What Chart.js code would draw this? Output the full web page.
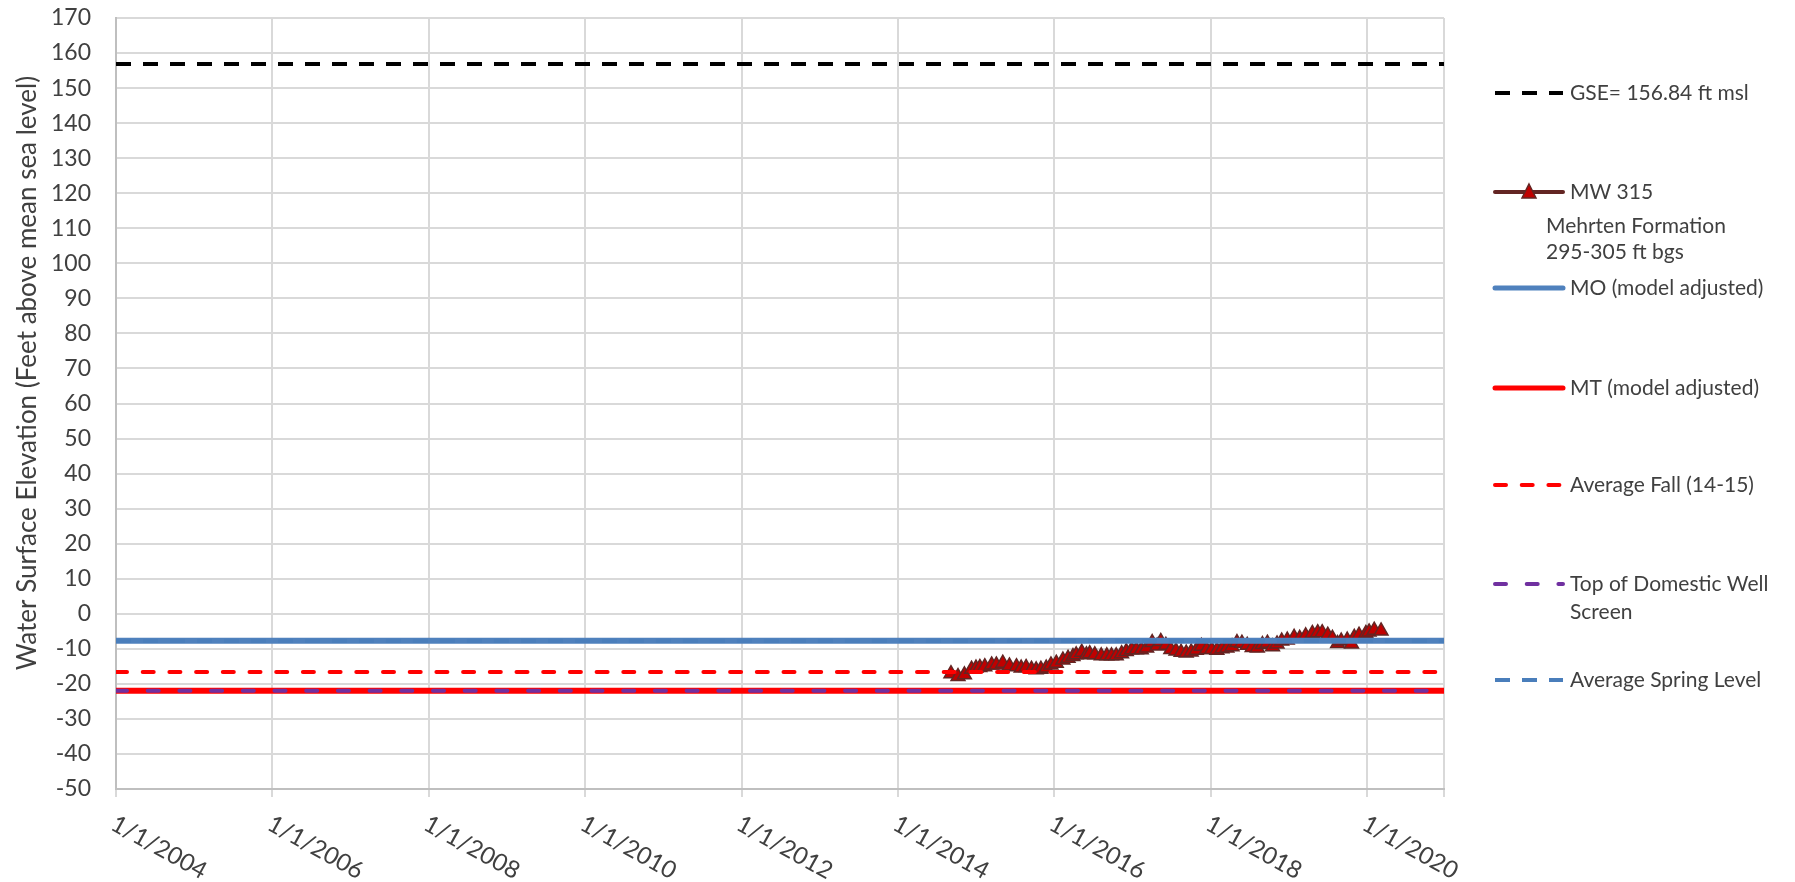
<!DOCTYPE html>
<html>
<head>
<meta charset="utf-8">
<script src="https://cdn.jsdelivr.net/npm/chart.js@4.4.0/dist/chart.umd.min.js"></script>
<style>
  body { margin: 0; background: #fff; }
  canvas { display: block; }
</style>
</head>
<body>
<canvas id="chart" width="1795" height="882"></canvas>
<script>
// ---------- DATA ----------
var xStart = '2004-01-01';
var xEnd = '2020-12-25';
var xTickLabels = ['1/1/2004', '1/1/2006', '1/1/2008', '1/1/2010', '1/1/2012',
                   '1/1/2014', '1/1/2016', '1/1/2018', '1/1/2020'];
var yMin = -50, yMax = 170, yStep = 10;

var seriesNames = ['GSE= 156.84 ft msl', 'MW 315', 'MO (model adjusted)', 'MT (model adjusted)',
                   'Average Fall (14-15)', 'Top of Domestic Well Screen', 'Average Spring Level'];
var mwSubLabel = ['Mehrten Formation', '295-305 ft bgs'];

var levelGSE = 156.84;
var levelMO = -7.7;
var levelMT = -22;
var levelFall = -16.6;
var levelWell = -22;
var levelSpring = -7.8;

var mwDates = [
  '2014-09-05','2014-10-08','2014-11-07','2014-12-10','2014-12-31','2015-01-18','2015-02-10','2015-03-14',
  '2015-04-05','2015-05-05','2015-06-05','2015-07-08','2015-07-30','2015-08-22','2015-09-16','2015-10-08',
  '2015-10-30','2015-11-24','2015-12-16','2016-01-10','2016-02-10','2016-03-05','2016-03-28','2016-04-12',
  '2016-05-08','2016-05-30','2016-06-14','2016-07-08','2016-08-07','2016-09-02','2016-09-24','2016-10-16',
  '2016-11-10','2016-12-02','2016-12-27','2017-01-18','2017-02-10','2017-03-07','2017-04-02','2017-04-25',
  '2017-05-12','2017-06-05','2017-06-28','2017-07-22','2017-08-15','2017-09-08','2017-10-01','2017-10-25',
  '2017-11-18','2017-12-12','2018-01-05','2018-01-29','2018-02-22','2018-03-17','2018-04-10','2018-05-03',
  '2018-05-26','2018-06-20','2018-07-13','2018-08-06','2018-08-30','2018-09-22','2018-10-16','2018-11-06',
  '2018-11-28','2018-12-24','2019-01-25','2019-02-20','2019-03-20','2019-04-20','2019-05-15','2019-06-05',
  '2019-07-01','2019-07-23','2019-08-16','2019-09-02','2019-09-30','2019-10-20','2019-11-02','2019-11-24',
  '2019-12-26','2020-01-10','2020-02-03','2020-03-06'
];
var mwLevels = [
  -17.1, -17.9, -17.4, -15.8, -15.5, -15.3, -15.1, -14.6,
  -14.6, -14.1, -14.9, -15.1, -15.5, -15.3, -15.8, -16.0,
  -15.8, -15.5, -14.6, -14.1, -13.2, -12.7, -12.2, -11.7,
  -11.0, -11.7, -11.4, -11.7, -12.0, -12.0, -12.0, -12.0,
  -11.4, -10.8, -10.3, -10.3, -10.3, -9.8, -8.2, -9.2,
  -7.9, -9.0, -10.2, -10.6, -11.0, -11.2, -10.9, -10.4,
  -9.3, -10.2, -10.2, -10.4, -10.0, -9.8, -9.4, -8.2,
  -8.4, -9.0, -9.6, -9.8, -8.8, -8.4, -9.4, -8.6,
  -7.8, -7.5, -6.7, -7.0, -6.3, -5.6, -5.4, -5.4,
  -6.1, -7.0, -8.5, -7.8, -7.5, -8.6, -6.7, -6.1,
  -5.6, -5.2, -4.7, -4.9
];

// ---------- HELPERS ----------
var t0 = Date.parse(xStart);
var t1 = Date.parse(xEnd);

function labelToTime(s) {
  var p = s.split('/');
  return Date.UTC(+p[2], +p[0] - 1, +p[1]);
}
var xTickValues = xTickLabels.map(labelToTime);

function flat(v) {
  return [{ x: t0, y: v }, { x: t1, y: v }];
}

var mwPoints = mwDates.map(function (d, i) {
  return { x: Date.parse(d), y: mwLevels[i] };
});

var textColor = '#404040';
var fontName = 'Lato, "Open Sans", sans-serif';

// series styles (also used for the legend)
var styles = [
  { color: '#000000', width: 4, dash: [15, 12], cap: 'butt' },
  { color: '#632523', width: 4, dash: [], cap: 'butt', marker: true },
  { color: '#4f81bd', width: 6, dash: [], cap: 'butt' },
  { color: '#ff0000', width: 6, dash: [], cap: 'butt' },
  { color: '#ff0000', width: 4, dash: [11, 15.7], cap: 'round' },
  { color: '#7030a0', width: 4, dash: [11, 20.7], cap: 'round' },
  { color: '#4a7ebb', width: 4, dash: [15, 12], cap: 'butt' }
];
var seriesData = [flat(levelGSE), mwPoints, flat(levelMO), flat(levelMT),
                  flat(levelFall), flat(levelWell), flat(levelSpring)];

var datasets = seriesData.map(function (d, i) {
  var s = styles[i];
  return {
    label: seriesNames[i],
    data: d,
    borderColor: s.color,
    borderWidth: s.width,
    borderDash: s.dash,
    borderCapStyle: s.cap,
    pointRadius: s.marker ? 8 : 0,
    pointStyle: 'triangle',
    pointBackgroundColor: '#c00000',
    pointBorderColor: '#632523',
    pointBorderWidth: 1.5,
    fill: false,
    order: seriesData.length - 1 - i   // later series drawn on top, like Excel
  };
});

// ---------- PLUGINS ----------
// rotated date labels under the x axis
var xLabelPlugin = {
  id: 'xLabels',
  afterDraw: function (chart) {
    var ctx = chart.ctx;
    var xs = chart.scales.x;
    var ang = 29 * Math.PI / 180;
    ctx.save();
    ctx.fillStyle = textColor;
    ctx.font = '24px ' + fontName;
    ctx.textAlign = 'left';
    ctx.textBaseline = 'middle';
    xTickValues.forEach(function (v, i) {
      var px = xs.getPixelForValue(v);
      ctx.save();
      ctx.translate(px - 3, 822);
      ctx.rotate(ang);
      ctx.fillText(xTickLabels[i], 0, 0);
      ctx.restore();
    });
    ctx.restore();
  }
};

// y title + legend drawn by hand to match the original placement
var legendPlugin = {
  id: 'customLegend',
  afterDraw: function (chart) {
    var ctx = chart.ctx;
    ctx.save();
    ctx.fillStyle = textColor;
    ctx.font = '26px ' + fontName;
    ctx.textAlign = 'center';
    ctx.textBaseline = 'middle';
    ctx.translate(28, 373);
    ctx.rotate(-Math.PI / 2);
    ctx.fillText('Water Surface Elevation (Feet above mean sea level)', 0, 0);
    ctx.restore();

    var rows = [93, 192, 288, 388, 485, 584, 680];
    var x1 = 1495, x2 = 1563, tx = 1570;
    ctx.save();
    ctx.font = '21px ' + fontName;
    ctx.textBaseline = 'middle';
    ctx.textAlign = 'left';
    rows.forEach(function (y, i) {
      var s = styles[i];
      ctx.beginPath();
      ctx.strokeStyle = s.color;
      ctx.lineWidth = Math.min(s.width, 5);
      ctx.lineCap = s.dash.length ? s.cap : 'round';
      ctx.setLineDash(s.dash);
      ctx.moveTo(x1, y);
      ctx.lineTo(x2, y);
      ctx.stroke();
      ctx.setLineDash([]);
      if (s.marker) {
        ctx.beginPath();
        ctx.moveTo(1529, y - 8);
        ctx.lineTo(1536, y + 6);
        ctx.lineTo(1522, y + 6);
        ctx.closePath();
        ctx.fillStyle = '#c00000';
        ctx.fill();
        ctx.lineWidth = 1.5;
        ctx.strokeStyle = '#632523';
        ctx.stroke();
      }
      ctx.fillStyle = textColor;
      if (i === 5) {
        ctx.fillText('Top of Domestic Well', tx, y);
        ctx.fillText('Screen', tx, y + 28);
      } else {
        ctx.fillText(seriesNames[i], tx, y);
      }
    });
    ctx.fillText(mwSubLabel[0], 1546, 226);
    ctx.fillText(mwSubLabel[1], 1546, 252);
    ctx.restore();
  }
};

// ---------- CHART ----------
new Chart(document.getElementById('chart'), {
  type: 'line',
  data: { datasets: datasets },
  plugins: [xLabelPlugin, legendPlugin],
  options: {
    responsive: false,
    animation: false,
    layout: { padding: { left: 0, right: 351, top: 18, bottom: 0 } },
    plugins: {
      legend: { display: false },
      tooltip: { enabled: false }
    },
    scales: {
      x: {
        type: 'linear',
        min: t0,
        max: t1,
        afterBuildTicks: function (scale) {
          scale.ticks = xTickValues.map(function (v) { return { value: v }; })
            .concat([{ value: t1 }]);
        },
        afterFit: function (scale) {
          scale.height = 93;
          scale.paddingLeft = 0;
          scale.paddingRight = 0;
        },
        ticks: { display: false },
        grid: { color: '#d9d9d9', lineWidth: 2, tickLength: 8, drawTicks: true },
        border: { color: '#bfbfbf', width: 2 }
      },
      y: {
        min: yMin,
        max: yMax,
        afterFit: function (scale) {
          scale.width = 116;
          scale.paddingTop = 0;
          scale.paddingBottom = 0;
        },
        ticks: {
          stepSize: yStep,
          padding: 25,
          color: textColor,
          font: { family: fontName, size: 23 }
        },
        grid: { color: '#d9d9d9', lineWidth: 2, drawTicks: false },
        border: { color: '#bfbfbf', width: 2 }
      }
    }
  }
});
</script>
</body>
</html>
